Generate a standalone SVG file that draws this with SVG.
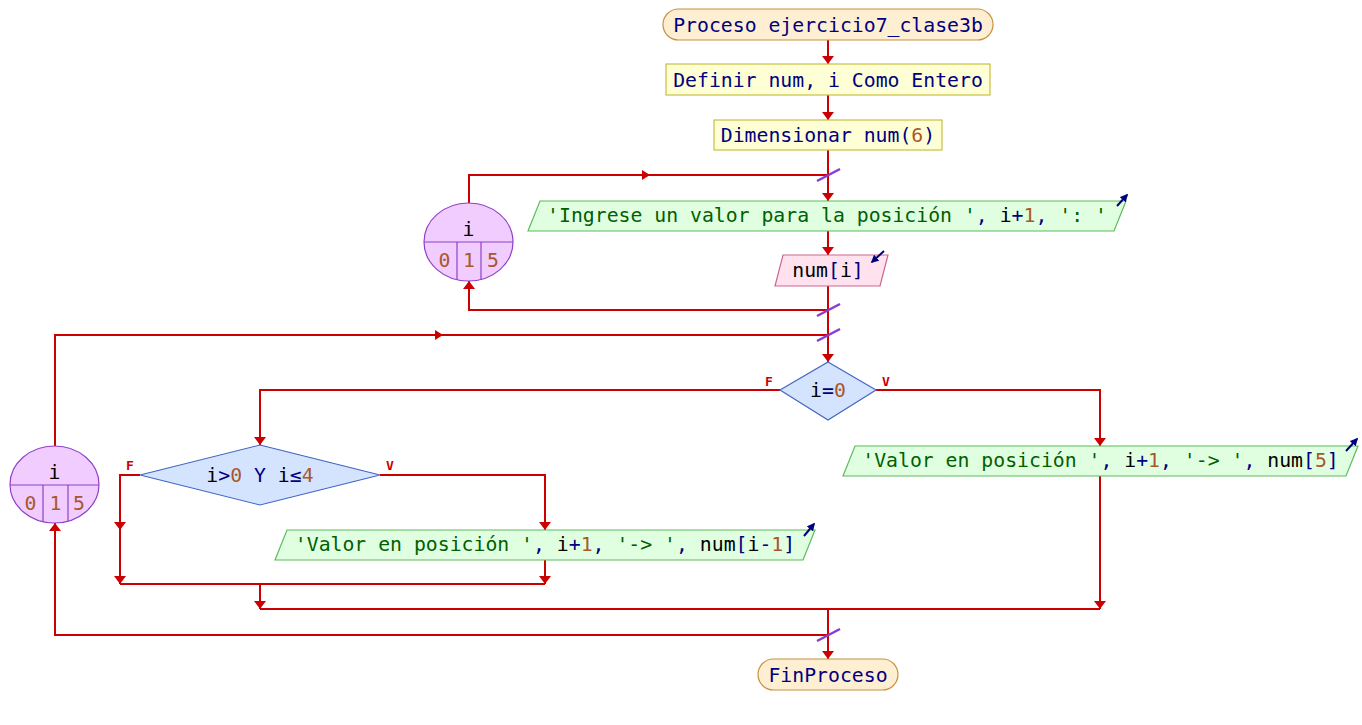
<svg xmlns="http://www.w3.org/2000/svg" xmlns:xlink="http://www.w3.org/1999/xlink" width="1362" height="725" viewBox="0 0 1362 725">
  <style>
    text { font-family: "DejaVu Sans Mono", "Liberation Mono", monospace; font-size: 19.8px; text-anchor: middle; }
    .kw { fill: #000080; }
    .str { fill: #006000; }
    .var { fill: #000000; }
    .op { fill: #000080; }
    .num { fill: #a8582a; }
    .lbl { font-size: 13px; font-weight: bold; fill: #cc0000; }
    .term { fill: #ffefd2; stroke: #c8923c; stroke-width: 1.2; }
    .proc { fill: #ffffd6; stroke: #c8c040; stroke-width: 1.2; }
    .out { fill: #e0ffe0; stroke: #5cbc5c; stroke-width: 1.2; }
    .in { fill: #ffe2ee; stroke: #cc6690; stroke-width: 1.2; }
    .dec { fill: #d4e4ff; stroke: #4466c4; stroke-width: 1.2; }
    .loop { fill: #f0ccff; stroke: #9040c8; stroke-width: 1.2; }
    .sep { stroke: #9040c8; stroke-width: 1.2; fill: none; }
    .wire { stroke: #cc0000; stroke-width: 2; fill: none; }
    .tick { stroke: #8a3ad0; stroke-width: 2.5; }
    .io { stroke: #000080; stroke-width: 2; fill: none; marker-end: url(#ioHead); }
  </style>
  <defs>
    <polygon id="ahDown" points="0,0 -6,-8 6,-8" fill="#cc0000"/>
    <polygon id="ahUp" points="0,0 -6,8 6,8" fill="#cc0000"/>
    <polygon id="ahRight" points="0,0 -8,-5 -8,5" fill="#cc0000"/>
    <line id="slash" x1="-11" y1="6" x2="12" y2="-6" class="tick"/>
    <marker id="ioHead" viewBox="0 0 10 10" refX="8" refY="5" markerWidth="4" markerHeight="4" orient="auto">
      <path d="M0,0 L10,5 L0,10 Z" fill="#000080"/>
    </marker>
  </defs>

  <!-- connectors -->
  <g id="connectors">
    <line class="wire" x1="828" y1="40" x2="828" y2="64"/>
    <use xlink:href="#ahDown" x="828" y="64"/>
    <line class="wire" x1="828" y1="95" x2="828" y2="120"/>
    <use xlink:href="#ahDown" x="828" y="120"/>
    <line class="wire" x1="828" y1="150" x2="828" y2="201"/>
    <use xlink:href="#ahDown" x="828" y="201"/>
    <line class="wire" x1="828" y1="231" x2="828" y2="255"/>
    <use xlink:href="#ahDown" x="828" y="255"/>
    <line class="wire" x1="828" y1="286" x2="828" y2="362"/>
    <use xlink:href="#ahDown" x="828" y="362"/>

    <!-- inner loop return -->
    <polyline class="wire" points="828,310 469,310 469,281"/>
    <use xlink:href="#ahUp" x="469" y="281"/>
    <polyline class="wire" points="469,203 469,175 828,175"/>
    <use xlink:href="#ahRight" x="650" y="175"/>

    <!-- outer loop return -->
    <polyline class="wire" points="828,635 55,635 55,523"/>
    <use xlink:href="#ahUp" x="55" y="523"/>
    <polyline class="wire" points="55,446 55,335 828,335"/>
    <use xlink:href="#ahRight" x="443" y="335"/>

    <!-- i=0 branches -->
    <polyline class="wire" points="876,390 1100,390 1100,446"/>
    <use xlink:href="#ahDown" x="1100" y="446"/>
    <line class="wire" x1="1100" y1="476" x2="1100" y2="609"/>
    <use xlink:href="#ahDown" x="1100" y="609"/>
    <polyline class="wire" points="780,390 260,390 260,445"/>
    <use xlink:href="#ahDown" x="260" y="445"/>
    <line class="wire" x1="260" y1="584" x2="260" y2="609"/>
    <use xlink:href="#ahDown" x="260" y="609"/>
    <line class="wire" x1="260" y1="609" x2="1100" y2="609"/>
    <line class="wire" x1="828" y1="609" x2="828" y2="659"/>
    <use xlink:href="#ahDown" x="828" y="659"/>

    <!-- i>0 Y i<=4 branches -->
    <polyline class="wire" points="140,475 120,475 120,584"/>
    <use xlink:href="#ahDown" x="120" y="530"/>
    <use xlink:href="#ahDown" x="120" y="584"/>
    <polyline class="wire" points="380,475 545,475 545,530"/>
    <use xlink:href="#ahDown" x="545" y="530"/>
    <line class="wire" x1="545" y1="560" x2="545" y2="584"/>
    <use xlink:href="#ahDown" x="545" y="584"/>
    <line class="wire" x1="120" y1="584" x2="545" y2="584"/>

    <!-- loop boundary marks -->
    <use xlink:href="#slash" x="828" y="175"/>
    <use xlink:href="#slash" x="828" y="310"/>
    <use xlink:href="#slash" x="828" y="335"/>
    <use xlink:href="#slash" x="828" y="635"/>

    <!-- branch labels -->
    <text class="lbl" x="769" y="386">F</text>
    <text class="lbl" x="886" y="386">V</text>
    <text class="lbl" x="130" y="470">F</text>
    <text class="lbl" x="390" y="470">V</text>
  </g>

  <g id="inicio">
    <rect class="term" x="663" y="9" width="330" height="31" rx="15.5"/>
    <text class="kw" x="828" y="31.5">Proceso ejercicio7_clase3b</text>
  </g>

  <g id="definir">
    <rect class="proc" x="666" y="64" width="324" height="31"/>
    <text class="kw" x="828" y="86.5">Definir num, i Como Entero</text>
  </g>

  <g id="dimensionar">
    <rect class="proc" x="714" y="120" width="228" height="30"/>
    <text class="kw" x="828" y="142">Dimensionar num(<tspan class="num">6</tspan>)</text>
  </g>

  <g id="para1">
    <ellipse class="loop" cx="468.5" cy="242" rx="44.5" ry="39"/>
    <line class="sep" x1="424" y1="242" x2="513" y2="242"/>
    <line class="sep" x1="457" y1="242" x2="457" y2="279.7"/>
    <line class="sep" x1="481" y1="242" x2="481" y2="279.5"/>
    <text class="var" x="468.5" y="236">i</text>
    <text class="num" x="444.5" y="267">0</text>
    <text class="num" x="469" y="267">1</text>
    <text class="num" x="493" y="267">5</text>
  </g>

  <g id="escribir1">
    <polygon class="out" points="540,201 1126,201 1114,231 528,231"/>
    <text x="827" y="222"><tspan class="str">'Ingrese un valor para la posición '</tspan><tspan class="op">, </tspan><tspan class="var">i</tspan><tspan class="op">+</tspan><tspan class="num">1</tspan><tspan class="op">, </tspan><tspan class="str">': '</tspan></text>
    <line class="io" x1="1117" y1="206" x2="1127" y2="195"/>
  </g>

  <g id="leer">
    <polygon class="in" points="783,255 888,255 880,286 775,286"/>
    <text x="828" y="277"><tspan class="var">num</tspan><tspan class="op">[</tspan><tspan class="var">i</tspan><tspan class="op">]</tspan></text>
    <line class="io" x1="884" y1="251" x2="872" y2="262"/>
  </g>

  <g id="para2">
    <ellipse class="loop" cx="54.5" cy="484.5" rx="44.5" ry="38.5"/>
    <line class="sep" x1="10" y1="485" x2="99" y2="485"/>
    <line class="sep" x1="43" y1="485" x2="43" y2="521.5"/>
    <line class="sep" x1="68" y1="485" x2="68" y2="521"/>
    <text class="var" x="54.5" y="479">i</text>
    <text class="num" x="30.5" y="510">0</text>
    <text class="num" x="55.5" y="510">1</text>
    <text class="num" x="79" y="510">5</text>
  </g>

  <g id="si1">
    <polygon class="dec" points="828,362 876,390 828,420 780,390"/>
    <text x="828" y="397"><tspan class="var">i</tspan><tspan class="op">=</tspan><tspan class="num">0</tspan></text>
  </g>

  <g id="escribir2">
    <polygon class="out" points="855,446 1358,446 1346,476 843,476"/>
    <text x="1100.5" y="467"><tspan class="str">'Valor en posición '</tspan><tspan class="op">, </tspan><tspan class="var">i</tspan><tspan class="op">+</tspan><tspan class="num">1</tspan><tspan class="op">, </tspan><tspan class="str">'-&gt; '</tspan><tspan class="op">, </tspan><tspan class="var">num</tspan><tspan class="op">[</tspan><tspan class="num">5</tspan><tspan class="op">]</tspan></text>
    <line class="io" x1="1346" y1="451" x2="1357" y2="439"/>
  </g>

  <g id="si2">
    <polygon class="dec" points="260,445 380,475 260,505 140,475"/>
    <text x="260" y="482"><tspan class="var">i</tspan><tspan class="op">&gt;</tspan><tspan class="num">0</tspan><tspan class="op"> Y </tspan><tspan class="var">i</tspan><tspan class="op">≤</tspan><tspan class="num">4</tspan></text>
  </g>

  <g id="escribir3">
    <polygon class="out" points="287,530 815,530 803,560 275,560"/>
    <text x="545" y="551"><tspan class="str">'Valor en posición '</tspan><tspan class="op">, </tspan><tspan class="var">i</tspan><tspan class="op">+</tspan><tspan class="num">1</tspan><tspan class="op">, </tspan><tspan class="str">'-&gt; '</tspan><tspan class="op">, </tspan><tspan class="var">num</tspan><tspan class="op">[</tspan><tspan class="var">i</tspan><tspan class="op">-</tspan><tspan class="num">1</tspan><tspan class="op">]</tspan></text>
    <line class="io" x1="804" y1="536" x2="814" y2="524"/>
  </g>

  <g id="fin">
    <rect class="term" x="758" y="659" width="140" height="31" rx="15.5"/>
    <text class="kw" x="828" y="681.5">FinProceso</text>
  </g>
</svg>
